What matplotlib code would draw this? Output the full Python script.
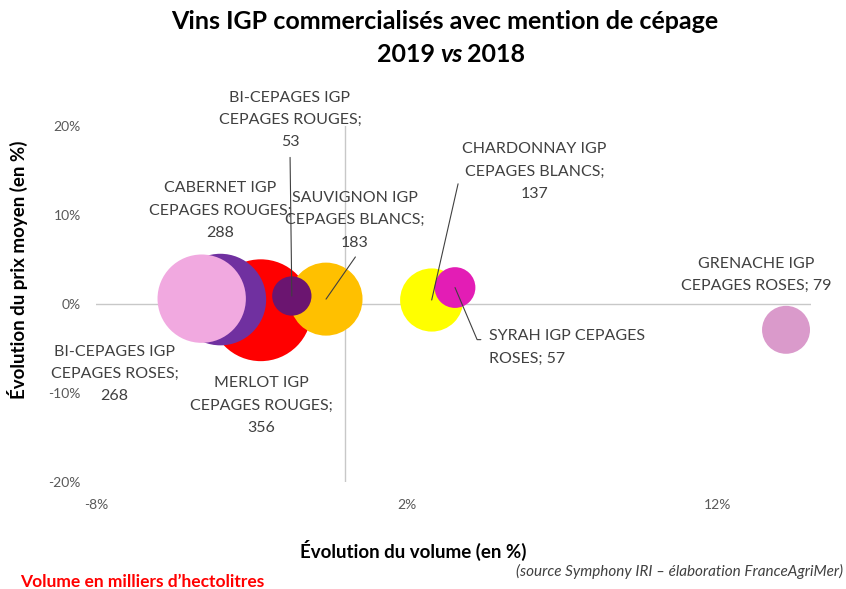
import matplotlib
matplotlib.use("Agg")
import matplotlib.pyplot as plt
from matplotlib.ticker import FuncFormatter

plt.rcParams['font.family'] = ['Lato', 'DejaVu Sans']

# ---------------- data ----------------
names = ["MERLOT IGP\nCEPAGES ROUGES", "SAUVIGNON IGP\nCEPAGES BLANCS",
         "CABERNET IGP\nCEPAGES ROUGES", "BI-CEPAGES IGP\nCEPAGES ROSES",
         "BI-CEPAGES IGP\nCEPAGES ROUGES", "CHARDONNAY IGP\nCEPAGES BLANCS",
         "SYRAH IGP CEPAGES\nROSES", "GRENACHE IGP\nCEPAGES ROSES"]
vol_change = [-2.7, -0.6, -4.0, -4.6, -1.7, 2.8, 3.55, 14.2]      # % volume
price_change = [-0.7, 0.55, 0.5, 0.6, 0.9, 0.45, 1.85, -2.9]     # % average price
volume = [356, 183, 288, 268, 53, 137, 57, 79]                    # thousand hl
colors = ["#FF0000", "#FFC000", "#7030A0", "#F1A9E0", "#6B1570",
          "#FFFF00", "#E31DB5", "#DA9ACB"]
value_sep = [";\n", ";\n", ";\n", ";\n", ";\n", ";\n", "; ", "; "]

x_ticks = [-8, 2, 12]
y_ticks = [-20, -10, 0, 10, 20]

# ---------------- layout (label placement, data coords) ----------------
label_pos = [(-2.69, -11.4), (0.33, 9.4), (-4.0, 10.5), (-7.4, -7.9),
             (-1.76, 20.7), (6.1, 14.9), (4.65, -4.9), (13.25, 3.25)]
label_ha = ["center", "center", "center", "center", "center", "center", "left", "center"]
split_lines = [False, False, False, True, False, False, False, False]
leader = [None,
          dict(relpos=(0.54, 0.0)),
          None, None,
          dict(relpos=(0.5, 0.0)),
          dict(relpos=(0.0, 0.59)),
          dict(relpos=(0.0, 0.72), connectionstyle="angle,angleA=0,angleB=113,rad=0"),
          None]
line_step_pt = 15.9

fig = plt.figure(figsize=(8.46, 5.89), dpi=100)
ax = fig.add_axes([0.1135, 0.1817, 0.845, 0.6043])
ax.set_xlim(-8, 15)
ax.set_ylim(-20, 20)

for s in ax.spines.values():
    s.set_visible(False)
ax.axhline(0, color="#C8C8C8", lw=1.0, zorder=1)
ax.axvline(0, color="#C8C8C8", lw=1.0, zorder=1)

size_k = 15.1
ax.scatter(vol_change, price_change, s=[v * size_k for v in volume],
           c=colors, edgecolors="none", zorder=3)

ax.set_xticks(x_ticks)
ax.set_yticks(y_ticks)
fmt = FuncFormatter(lambda v, p: f"{v:.0f}%")
ax.xaxis.set_major_formatter(fmt)
ax.yaxis.set_major_formatter(fmt)
ax.tick_params(axis="both", length=0, labelsize=10, labelcolor="#595959")
ax.tick_params(axis="x", pad=12)
ax.tick_params(axis="y", pad=11)

for i in range(len(names)):
    txt = f"{names[i]}{value_sep[i]}{volume[i]}"
    kw = dict(ha=label_ha[i], va="center", fontsize=11.5, color="#404040",
              zorder=5, annotation_clip=False)
    if split_lines[i]:
        lines = txt.split("\n")
        n = len(lines)
        for k, ln in enumerate(lines):
            off = ((n - 1) / 2 - k) * line_step_pt
            ax.annotate(ln, xy=label_pos[i], xytext=(0, off),
                        textcoords="offset points", **kw)
    elif leader[i] is None:
        ax.annotate(txt, xy=label_pos[i], linespacing=1.75,
                    multialignment=label_ha[i], **kw)
    else:
        ap = dict(arrowstyle="-", color="#404040", lw=0.8, shrinkA=4, shrinkB=0)
        ap.update(leader[i])
        ax.annotate(txt, xy=(vol_change[i], price_change[i]), xytext=label_pos[i],
                    textcoords="data", arrowprops=ap, linespacing=1.75,
                    multialignment=label_ha[i], **kw)

# titles and notes
fig.text(0.526, 0.963, "Vins IGP commercialisés avec mention de cépage",
         ha="center", va="center", fontsize=18, fontweight="bold")
t1 = fig.text(0.4456, 0.907, "2019", ha="left", va="center", fontsize=18, fontweight="bold")
a2 = ax.annotate("vs", xy=(1, 0), xycoords=t1, xytext=(3.5, 0), textcoords="offset points",
                 ha="left", va="bottom", fontsize=18, fontweight="bold", style="italic",
                 annotation_clip=False)
ax.annotate("2018", xy=(1, 0), xycoords=a2, xytext=(3.5, 0), textcoords="offset points",
            ha="left", va="bottom", fontsize=18, fontweight="bold", annotation_clip=False)

fig.text(0.488, 0.066, "Évolution du volume (en %)", ha="center", va="center",
         fontsize=13.5, fontweight="bold")
fig.text(0.021, 0.5416, "Évolution du prix moyen (en %)", ha="center", va="center",
         rotation=90, fontsize=13.5, fontweight="bold")
fig.text(0.024, 0.012, "Volume en milliers d’hectolitres", ha="left", va="center",
         fontsize=12.5, fontweight="bold", color="#FF0000")
fig.text(0.996, 0.029, "(source Symphony IRI – élaboration FranceAgriMer)", ha="right",
         va="center", fontsize=11, style="italic", color="#404040")

fig.savefig("out.png", dpi=100)
